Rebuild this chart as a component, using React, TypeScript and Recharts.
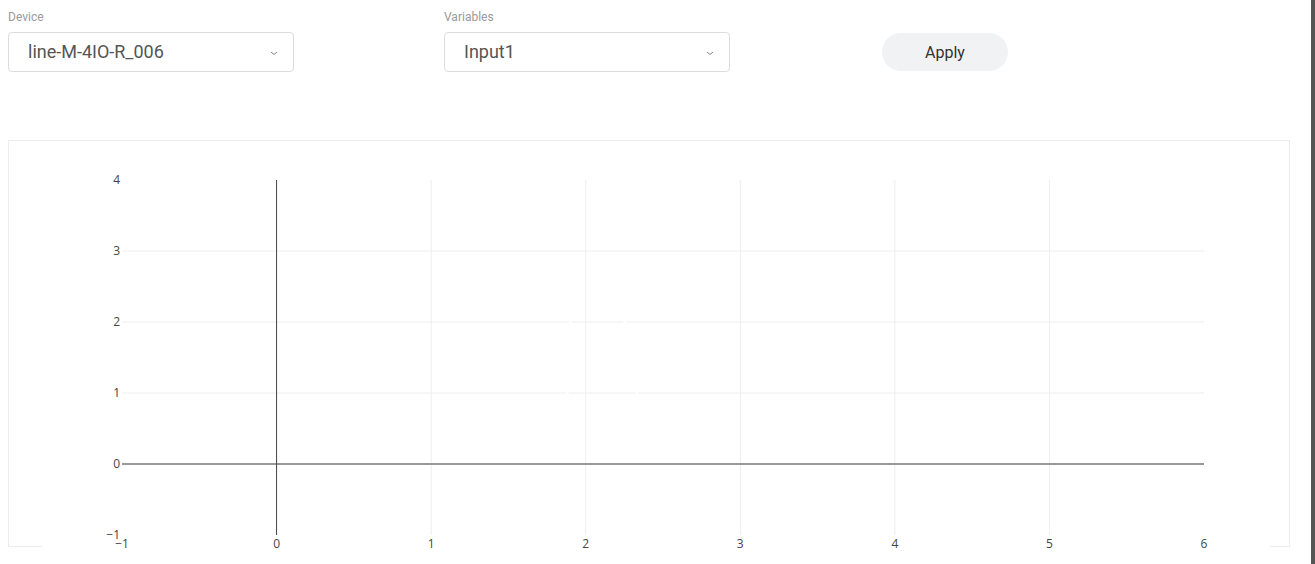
import React from "react";
import {
  ScatterChart,
  Scatter,
  XAxis,
  YAxis,
  CartesianGrid,
  ReferenceLine,
} from "recharts";

const X_TICKS = [-1, 0, 1, 2, 3, 4, 5, 6];
const Y_TICKS = [-1, 0, 1, 2, 3, 4];
const X_GRID = [1, 2, 3, 4, 5];
const Y_GRID = [1, 2, 3];
// faint white marks left on the plot
const traceX = [1.9, 2.25, 1.88, 2.33];
const traceY = [2, 2, 1, 1];

const points = traceX.map((x, i) => ({ x, y: traceY[i] }));

const fmt = (v: number) => String(v).replace("-", "\u2212");

const tickStyle = { fontSize: 12, fill: "#444", fontFamily: "'Open Sans', sans-serif" };

const Chevron = ({ left, top }: { left: number; top: number }) => (
  <svg
    width={8}
    height={5}
    style={{ position: "absolute", left, top }}
  >
    <path d="M1 1 L4 3.5 L7 1" fill="none" stroke="#888" strokeWidth={1} />
  </svg>
);

const Select = ({ left, label, value }: { left: number; label: string; value: string }) => (
  <>
    <div
      style={{
        position: "absolute",
        left,
        top: 10,
        fontSize: 12,
        color: "#9a9a9a",
        fontFamily: "Roboto, sans-serif",
      }}
    >
      {label}
    </div>
    <div
      style={{
        position: "absolute",
        left,
        top: 32,
        width: 284,
        height: 38,
        border: "1px solid #dcdcdc",
        borderRadius: 4,
        boxSizing: "content-box",
        background: "#fff",
      }}
    >
      <div
        style={{
          position: "absolute",
          left: 19,
          top: 8,
          fontSize: 18,
          lineHeight: "21px",
          color: "#555",
          fontFamily: "Roboto, sans-serif",
        }}
      >
        {value}
      </div>
      <Chevron left={261} top={18} />
    </div>
  </>
);

export default function App() {
  return (
    <div>
      <Select left={8} label="Device" value="line-M-4IO-R_006" />
      <Select left={444} label="Variables" value="Input1" />
      <div
        style={{
          position: "absolute",
          left: 882,
          top: 33,
          width: 126,
          height: 38,
          borderRadius: 19,
          background: "#f1f2f4",
          color: "#333",
          fontSize: 16,
          fontFamily: "Roboto, sans-serif",
          display: "flex",
          alignItems: "center",
          justifyContent: "center",
        }}
      >
        Apply
      </div>

      <div
        style={{
          position: "absolute",
          left: 8,
          top: 140,
          width: 1280,
          height: 405,
          border: "1px solid #ececec",
        }}
      />

      <div
        style={{
          position: "absolute",
          left: 42,
          top: 141,
          width: 1228,
          height: 420,
          background: "#fff",
        }}
      >
        <ScatterChart
          width={1228}
          height={420}
          margin={{ top: 39, right: 66, bottom: 0, left: 0 }}
        >
          <CartesianGrid
            stroke="#eee"
            horizontalValues={Y_GRID}
            verticalValues={X_GRID}
          />
          <XAxis
            type="number"
            dataKey="x"
            domain={[-1, 6]}
            ticks={X_TICKS}
            tickFormatter={fmt}
            axisLine={false}
            tickLine={false}
            tickSize={0}
            tickMargin={4}
            height={26}
            tick={tickStyle}
            interval={0}
            allowDataOverflow
          />
          <YAxis
            type="number"
            dataKey="y"
            domain={[-1, 4]}
            ticks={Y_TICKS}
            tickFormatter={fmt}
            axisLine={false}
            tickLine={false}
            tickSize={0}
            tickMargin={2}
            width={80}
            tick={tickStyle}
            interval={0}
            allowDataOverflow
          />
          <ReferenceLine y={0} stroke="#999" strokeWidth={2} />
          <ReferenceLine x={0} stroke="#444" strokeWidth={1} />
          <Scatter
            data={points}
            fill="#fff"
            shape={(p: any) => <circle cx={p.cx} cy={p.cy} r={1.5} fill="#fff" />}
            isAnimationActive={false}
          />
        </ScatterChart>
      </div>

      <div
        style={{
          position: "absolute",
          left: 1311,
          top: 0,
          width: 4,
          height: 564,
          background: "#555",
        }}
      />
    </div>
  );
}
